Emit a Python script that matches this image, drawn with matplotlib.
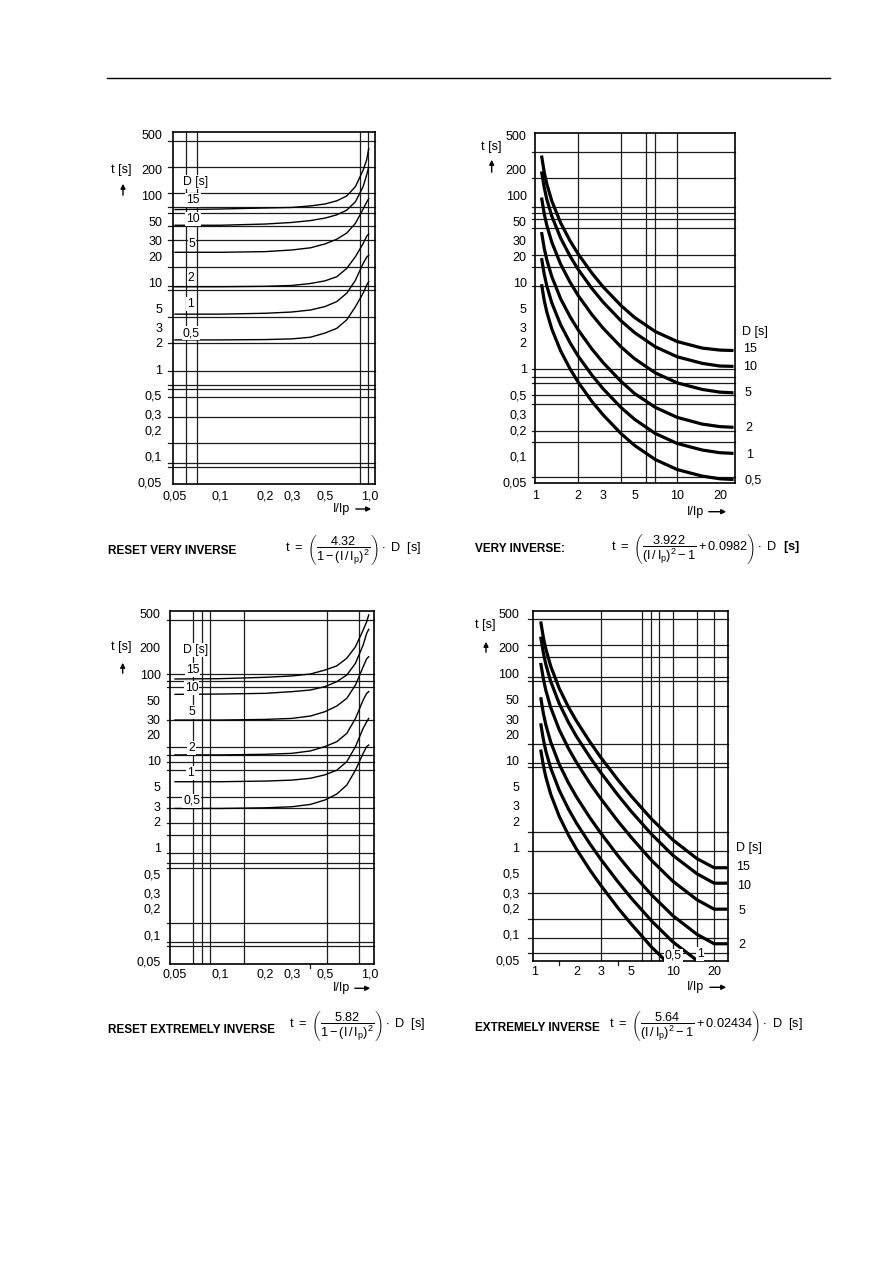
import numpy as np
import matplotlib.pyplot as plt
from matplotlib.patches import FancyArrowPatch
from matplotlib.lines import Line2D

W, H = 893, 1263

plt.rcParams['font.family'] = ['Liberation Sans', 'DejaVu Sans']
plt.rcParams['mathtext.fontset'] = 'custom'
plt.rcParams['mathtext.rm'] = 'Liberation Sans'
plt.rcParams['mathtext.it'] = 'Liberation Sans'
plt.rcParams['mathtext.bf'] = 'Liberation Sans:bold'

# ---- data ----
d_labels = ['15', '10', '5', '2', '1', '0,5']

t_ticks = [0.05, 0.1, 0.2, 0.3, 0.5, 1, 2, 3, 5, 10, 20, 30, 50, 100, 200, 500]
t_labels = ['0,05', '0,1', '0,2', '0,3', '0,5', '1', '2', '3', '5', '10', '20', '30', '50', '100', '200', '500']

reset_x_ticks = [0.05, 0.1, 0.2, 0.3, 0.5, 1.0]
reset_x_labels = ['0,05', '0,1', '0,2', '0,3', '0,5', '1,0']
inv_x_ticks = [1, 2, 3, 5, 10, 20]
inv_x_labels = ['1', '2', '3', '5', '10', '20']

# reset very inverse
rvi_x = [0.05, 0.1, 0.2, 0.3, 0.4, 0.5, 0.6, 0.7, 0.8, 0.9, 0.95, 0.98]
rvi_t = [
    [69, 70, 72, 73, 76, 80, 87, 99, 127, 197, 258, 345],
    [45.5, 45.5, 47, 49, 51.5, 55, 60, 68, 85, 127, 173, 211],
    [22.2, 22.2, 22.6, 23.6, 25, 27.7, 31.4, 37, 48, 70, 84, 92],
    [8.9, 8.9, 9.0, 9.2, 9.7, 10.4, 11.6, 14.5, 19.8, 28, 34, 36],
    [4.3, 4.3, 4.4, 4.55, 4.8, 5.25, 6.0, 7.5, 10.6, 16.5, 19.5, 20.5],
    [2.17, 2.17, 2.19, 2.23, 2.33, 2.6, 2.95, 3.7, 5.25, 7.5, 9.3, 10.2],
]
rvi_hgrid = [430, 215, 107, 74, 63.6, 44.7, 30.8, 15.0, 9.09, 8.17, 3.99, 2.0,
             0.96, 0.656, 0.59, 0.48, 0.283, 0.141, 0.0835, 0.075]
rvi_vgrid = [0.059, 0.0697, 0.858, 0.974]

# very inverse
vi_x = [1.1, 1.15, 1.2, 1.3, 1.5, 1.75, 2, 2.5, 3, 4, 5, 7, 10, 15, 20, 25]
vi_t = [
    [290, 184, 135, 86.7, 48.5, 30.0, 21.1, 12.7, 8.82, 5.40, 3.92, 2.70, 2.07, 1.74, 1.65, 1.63],
    [190, 123, 90, 57.8, 32.4, 20.0, 14.0, 8.45, 5.88, 3.60, 2.62, 1.80, 1.38, 1.16, 1.08, 1.07],
    [95, 61.3, 45, 28.9, 16.2, 10.0, 7.0, 4.22, 2.94, 1.80, 1.31, 0.90, 0.69, 0.58, 0.54, 0.53],
    [38, 24.5, 18.0, 11.6, 6.47, 4.0, 2.81, 1.69, 1.18, 0.72, 0.52, 0.36, 0.276, 0.231, 0.216, 0.212],
    [19, 12.3, 9.0, 5.78, 3.24, 2.0, 1.40, 0.845, 0.588, 0.36, 0.262, 0.18, 0.138, 0.116, 0.108, 0.106],
    [9.5, 6.13, 4.5, 2.89, 1.62, 1.0, 0.70, 0.42, 0.294, 0.18, 0.131, 0.09, 0.069, 0.058, 0.054, 0.053],
]
vi_hgrid = [320.8, 158.4, 73.3, 63.5, 53.3, 42.0, 20.65, 15.14, 9.14, 0.992, 0.802,
            0.684, 0.497, 0.395, 0.194, 0.145, 0.0573]
vi_vgrid = [2, 3.98, 6.01, 7.0, 10]

# reset extremely inverse
rei_x = [0.05, 0.1, 0.2, 0.3, 0.4, 0.5, 0.6, 0.7, 0.8, 0.9, 0.95, 0.98]
rei_t = [
    [87.6, 88.4, 91.6, 94.9, 100, 111, 124, 152, 206, 321, 400, 478],
    [58.3, 58.8, 59.9, 62.6, 65.4, 71.5, 81.6, 97.4, 133, 216, 294, 327],
    [29.5, 29.5, 30.0, 30.8, 32.8, 36.8, 42.8, 52.5, 74.7, 121, 150, 158],
    [11.7, 11.7, 11.9, 12.2, 13.0, 14.6, 16.6, 20.7, 30.8, 50.2, 59.9, 62.6],
    [5.75, 5.75, 5.85, 6.0, 6.3, 6.9, 7.8, 9.8, 14.6, 23.7, 28.2, 30.8],
    [2.83, 2.83, 2.88, 2.96, 3.15, 3.54, 4.15, 5.26, 7.83, 12.2, 14.6, 15.2],
]
rei_hgrid = [418, 100, 83.7, 71.3, 29.5, 14.5, 11.65, 9.76, 7.83, 3.85, 2.83, 1.90,
             1.395, 0.859, 0.659, 0.577, 0.136, 0.0824, 0.0735]
rei_vgrid = [0.0662, 0.0756, 0.0855, 0.145, 0.513, 0.85]
rei_vstub = [0.4]

# extremely inverse
ei_x = [1.1, 1.15, 1.2, 1.3, 1.5, 1.75, 2, 2.5, 3, 4, 5, 7, 10, 15, 20, 25]
ei_t = [
    [403, 263, 193, 123, 68, 41.4, 28.6, 16.5, 10.9, 6.0, 3.89, 2.13, 1.22, 0.74, 0.58, 0.58],
    [269, 175, 128, 82, 45.4, 27.6, 19.0, 11.0, 7.29, 4.0, 2.59, 1.42, 0.81, 0.495, 0.385, 0.385],
    [134, 87.6, 64.2, 41, 22.7, 13.8, 9.52, 5.49, 3.65, 2.0, 1.30, 0.709, 0.407, 0.248, 0.193, 0.193],
    [53.8, 35, 25.7, 16.4, 9.07, 5.52, 3.81, 2.2, 1.46, 0.80, 0.518, 0.284, 0.163, 0.099, 0.077, 0.077],
    [26.9, 17.5, 12.8, 8.2, 4.54, 2.76, 1.90, 1.10, 0.729, 0.40, 0.259, 0.142, 0.0813, 0.0495, 0.0385, 0.0385],
    [13.4, 8.76, 6.42, 4.1, 2.27, 1.38, 0.952, 0.549, 0.365, 0.20, 0.130, 0.0709, 0.0407, 0.0248, 0.0193, 0.0193],
]
ei_hgrid = [426, 215.5, 158, 91.4, 83.5, 42.6, 15.55, 9.31, 8.37, 1.513, 0.914,
            0.2995, 0.148, 0.0892, 0.0599]
ei_vgrid = [3, 6, 7, 8, 10, 15, 20]
ei_vstub = [1.5, 4]

fig = plt.figure(figsize=(W / 100, H / 100), dpi=100)


def fxy(X, Y):
    return X / W, 1 - Y / H


def txt(X, Y, s, ha='center', va='center', size=8.8, box=False, **kw):
    bb = dict(facecolor='white', edgecolor='none', pad=0.6) if box else None
    fig.text(*fxy(X, Y), s, ha=ha, va=va, fontsize=size, bbox=bb, **kw)


def arrow(X0, Y0, X1, Y1):
    fig.add_artist(FancyArrowPatch(fxy(X0, Y0), fxy(X1, Y1), transform=fig.transFigure,
                                   arrowstyle='-|>', mutation_scale=7, lw=1.0, color='black'))


def panel(frame, xlim, ylim, xt, xl, hgrid, vgrid, stub, ypad, xpad, vstub=()):
    L, T, R, B = frame
    ax = fig.add_axes([L / W, 1 - B / H, (R - L) / W, (B - T) / H])
    ax.set_xscale('log')
    ax.set_yscale('log')
    ax.set_xlim(xlim)
    ax.set_ylim(ylim)
    ax.set_yticks(t_ticks, t_labels)
    ax.set_xticks(xt, xl)
    ax.minorticks_off()
    ax.tick_params(length=0, labelsize=9)
    ax.tick_params(axis='y', pad=ypad)
    ax.tick_params(axis='x', pad=xpad)
    for v in hgrid:
        ax.axhline(v, xmin=-stub, xmax=1, color='#1c1c1c', lw=0.9, clip_on=False)
    for v in vgrid:
        ax.axvline(v, color='#1c1c1c', lw=0.9)
    for v in vstub:
        ax.axvline(v, ymin=-0.012, ymax=0, color='#1c1c1c', lw=0.9, clip_on=False)
    for s in ax.spines.values():
        s.set_linewidth(1.2)
    return ax


# header rule
fig.add_artist(Line2D([107 / W, 830 / W], [1 - 78 / H] * 2, color='black', lw=1.0))

# ---- top left: reset very inverse ----
ax1 = panel((173.3, 131.7, 375, 484), (0.0487, 1.08), (0.0474, 545),
            reset_x_ticks, reset_x_labels, rvi_hgrid, rvi_vgrid, 0.025, 8, 4.5)
for t in rvi_t:
    ax1.plot(rvi_x, t, color='black', lw=1.0)
txt(121.7, 170, 't [s]', size=9)
arrow(123, 198, 123, 181)
for (X, Y), s in zip([(195.5, 182), (193, 200), (193, 219), (192, 244), (191, 278), (190, 304), (191, 333)],
                     ['D [s]'] + d_labels):
    txt(X, Y, s, box=True)
txt(333, 509, 'I/Ip', ha='left', size=9)
arrow(353, 509, 374, 509)

# ---- top right: very inverse ----
ax2 = panel((535, 132.7, 735, 483.3), (0.989, 25.6), (0.0479, 531.6),
            inv_x_ticks, inv_x_labels, vi_hgrid, vi_vgrid, 0.015, 6, 5)
for t in vi_t:
    ax2.plot(vi_x, t, color='black', lw=2.3, solid_capstyle='butt')
txt(491.7, 146.7, 't [s]', size=9)
arrow(491.7, 175, 491.7, 157)
for (X, Y), s in zip([(741.7, 331.7), (743.3, 349.3), (743, 367.3), (745, 393.3), (745, 427.7), (746, 455), (744.3, 480.7)],
                     ['D [s]'] + d_labels):
    txt(X, Y, s, ha='left', size=9)
txt(687, 511.7, 'I/Ip', ha='left', size=9)
arrow(706, 511.7, 729, 511.7)

# ---- bottom left: reset extremely inverse ----
ax3 = panel((170, 610.7, 374.3, 964), (0.0463, 1.068), (0.0458, 535.7),
            reset_x_ticks, reset_x_labels, rei_hgrid, rei_vgrid, 0.015, 6.7, 3, rei_vstub)
for t in rei_t:
    ax3.plot(rei_x, t, color='black', lw=1.0)
txt(121.7, 647.3, 't [s]', size=9)
arrow(122.7, 676, 122.7, 660)
for (X, Y), s in zip([(196, 650), (192.5, 670), (191.7, 688.3), (191.7, 712.3), (191.7, 747.7), (190.7, 772.7), (191.7, 800.7)],
                     ['D [s]'] + d_labels):
    txt(X, Y, s, box=True)
txt(333, 988.3, 'I/Ip', ha='left', size=9)
arrow(352, 988.3, 373, 988.3)

# ---- bottom right: extremely inverse ----
ax4 = panel((533.3, 610.7, 727.7, 960.7), (0.972, 25.1), (0.0491, 535.9),
            inv_x_ticks, inv_x_labels, ei_hgrid, ei_vgrid, 0.026, 10, 3.5, ei_vstub)
for t in ei_t:
    ax4.plot(ei_x, t, color='black', lw=2.3, solid_capstyle='butt')
txt(485, 625, 't [s]', size=9)
arrow(486, 655, 486, 639)
for (X, Y), s in zip([(736, 848.3), (736, 867.3), (736.7, 885.7), (738.3, 910.7), (738.3, 945.3)],
                     ['D [s]'] + d_labels[:4]):
    txt(X, Y, s, ha='left', size=9)
txt(673.3, 956, d_labels[5], box=True)
txt(700, 954.3, d_labels[4], box=True)
txt(687, 987.3, 'I/Ip', ha='left', size=9)
arrow(707, 987.3, 729, 987.3)

# ---- captions and formulas ----
txt(108, 551, 'RESET VERY INVERSE', ha='left', size=8.5, weight='bold')
txt(285, 550, r"$t\ =\ \left(\dfrac{4.32}{1-(I\,/\,I_p)^2}\right)\cdot\ D\ \ [s]$", ha='left', size=9.2)
txt(475, 549, 'VERY INVERSE:', ha='left', size=8.5, weight='bold')
txt(611, 549, r"$t\ =\ \left(\dfrac{3.922}{(I\,/\,I_p)^2-1}+0.0982\right)\cdot\ D\ \ \mathbf{[s]}$", ha='left', size=9.2)
txt(108, 1030, 'RESET EXTREMELY INVERSE', ha='left', size=8.5, weight='bold')
txt(289, 1026, r"$t\ =\ \left(\dfrac{5.82}{1-(I\,/\,I_p)^2}\right)\cdot\ D\ \ [s]$", ha='left', size=9.2)
txt(475, 1028, 'EXTREMELY INVERSE', ha='left', size=8.5, weight='bold')
txt(609, 1026, r"$t\ =\ \left(\dfrac{5.64}{(I\,/\,I_p)^2-1}+0.02434\right)\cdot\ D\ \ [s]$", ha='left', size=9.2)

fig.savefig('out.png', dpi=100, facecolor='white')
